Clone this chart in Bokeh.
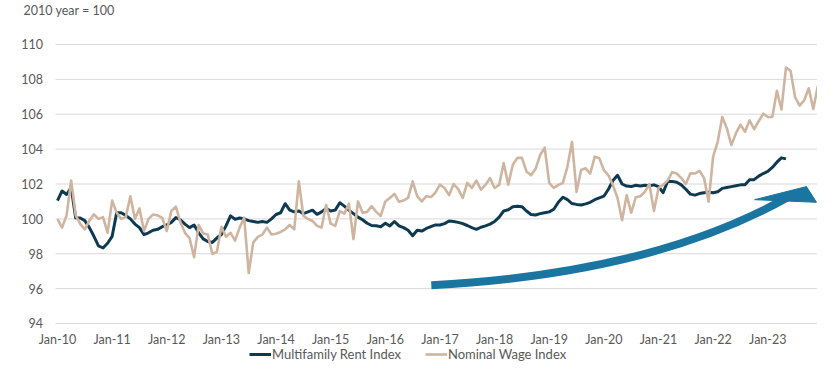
import numpy as np
from bokeh.plotting import figure
from bokeh.models import Legend, Range1d, Label
from bokeh.core.properties import value
from bokeh.embed import file_html
from bokeh.resources import INLINE

# ---- data (monthly, Jan-2010 onward) ----
tick_labels = ["Jan-10", "Jan-11", "Jan-12", "Jan-13", "Jan-14", "Jan-15", "Jan-16",
               "Jan-17", "Jan-18", "Jan-19", "Jan-20", "Jan-21", "Jan-22", "Jan-23"]
y_ticks = [94, 96, 98, 100, 102, 104, 106, 108, 110]

rent_index = [
    101.05, 101.6, 101.4, 101.8, 100.05, 100.05, 99.9, 99.5, 99.0, 98.45, 98.33, 98.6,
    99.0, 100.35, 100.35, 100.2, 100.0, 99.7, 99.5, 99.1, 99.2, 99.35, 99.4, 99.55,
    99.65, 99.8, 100.07, 99.95, 99.7, 99.5, 99.65, 99.2, 98.85, 98.7, 98.65, 98.9,
    99.1, 99.6, 100.17, 99.98, 100.05, 100.0, 99.9, 99.85, 99.8, 99.85, 99.8, 100.0,
    100.25, 100.35, 100.87, 100.5, 100.4, 100.45, 100.3, 100.4, 100.5, 100.26, 100.4, 100.6,
    100.45, 100.5, 100.92, 100.73, 100.5, 100.3, 100.1, 99.95, 99.75, 99.62, 99.6, 99.55,
    99.75, 99.6, 99.85, 99.6, 99.5, 99.35, 99.03, 99.35, 99.3, 99.45, 99.55, 99.65,
    99.65, 99.73, 99.88, 99.85, 99.8, 99.73, 99.62, 99.5, 99.4, 99.52, 99.6, 99.7,
    99.85, 100.1, 100.45, 100.52, 100.7, 100.73, 100.7, 100.45, 100.25, 100.22, 100.3, 100.35,
    100.4, 100.55, 100.95, 101.24, 101.1, 100.88, 100.83, 100.8, 100.86, 100.95, 101.1, 101.2,
    101.3, 101.7, 102.2, 102.5, 102.0, 101.88, 101.85, 101.93, 101.88, 101.93, 101.9, 101.95,
    101.85, 101.5, 102.15, 102.15, 102.1, 101.95, 101.7, 101.42, 101.36, 101.45, 101.5, 101.52,
    101.5, 101.55, 101.75, 101.8, 101.85, 101.9, 101.95, 101.96, 102.24, 102.25, 102.45, 102.6,
    102.72, 102.95, 103.25, 103.5, 103.44,
]

wage_index = [
    99.98, 99.5, 100.2, 102.2, 100.2, 99.7, 99.4, 99.9, 100.26, 100.0, 100.1, 99.2,
    101.05, 100.35, 100.0, 100.1, 101.3, 100.0, 100.6, 99.3, 100.0, 100.25, 100.2, 100.05,
    99.3, 100.45, 100.7, 99.8, 99.2, 98.9, 97.8, 99.65, 99.16, 99.1, 98.0, 98.1,
    99.54, 98.97, 99.2, 98.75, 99.5, 100.07, 96.9, 98.65, 98.97, 99.1, 99.5, 99.1,
    99.15, 99.25, 99.4, 99.65, 99.4, 102.15, 100.17, 100.0, 99.88, 99.6, 99.5, 100.8,
    99.73, 99.6, 100.45, 100.3, 100.87, 98.84, 101.0, 100.35, 100.4, 100.73, 100.4, 100.17,
    101.0, 101.2, 101.43, 100.98, 101.05, 101.2, 102.15, 101.3, 101.0, 101.3, 101.25, 101.5,
    101.96, 101.77, 101.36, 102.0, 101.7, 101.2, 102.06, 101.77, 102.2, 101.68, 101.95, 102.34,
    101.77, 101.95, 103.2, 101.96, 103.1, 103.5, 103.5, 102.72, 102.5, 102.87, 103.66, 104.08,
    102.06, 101.77, 101.95, 102.06, 103.0, 104.42, 101.55, 102.8, 102.9, 102.6, 103.57, 103.48,
    102.8, 102.5, 101.93, 101.2, 99.92, 101.36, 100.35, 101.24, 101.3, 101.55, 102.0, 100.45,
    101.77, 101.95, 102.2, 102.68, 102.6, 102.34, 102.0, 102.62, 102.6, 102.76, 102.34, 100.98,
    103.57, 104.42, 105.84, 105.2, 104.23, 104.9, 105.4, 105.0, 105.65, 105.14, 105.6, 106.03,
    105.84, 105.84, 107.35, 106.27, 108.68, 108.49, 106.98, 106.5, 106.8, 107.49, 106.3, 107.63,
]

# ---- styling ----
FONT = "Lato"
TXT = "#595959"
GRID = "#d9d9d9"
RENT_C = "#0e3a51"
WAGE_C = "#cfb5a0"
ARROW_C = "#1a76a0"

x_rent = np.arange(len(rent_index))
x_wage = np.arange(len(wage_index))
x_ticks = [12 * k for k in range(len(tick_labels))]

# The plotting frame covers the whole canvas; tick labels, note and legend live inside it.
p = figure(width=817, height=362, output_backend="svg", toolbar_location=None, title=None,
           x_range=Range1d(-12.519, 166.92), y_range=Range1d(91.763, 112.523),
           min_border=0, min_border_left=0, min_border_right=0,
           min_border_top=0, min_border_bottom=0)
p.outline_line_color = None
p.axis.visible = False
p.grid.visible = False

# horizontal gridlines
p.segment(x0=[-0.44] * len(y_ticks), x1=[167.4] * len(y_ticks), y0=y_ticks, y1=y_ticks,
          line_color=GRID, line_width=1)

# y tick labels
p.text(x=[-3.185] * len(y_ticks), y=y_ticks, text=[str(t) for t in y_ticks],
       text_align="right", text_baseline="middle",
       text_font=value(FONT), text_font_size="12.5px", text_color=TXT)

# month tick labels under the 94 line
p.text(x=x_ticks, y=[93.0825] * len(x_ticks), text=tick_labels,
       text_align="center", text_baseline="middle",
       text_font=value(FONT), text_font_size="12.5px", text_color=TXT)

# unit note (top-left)
p.add_layout(Label(x=-7.468, y=111.95, text="2010 year = 100",
                   text_align="left", text_baseline="middle",
                   text_font=FONT, text_font_size="12.5px", text_color=TXT))

# curved arrow annotation
p.quadratic(x0=82.1, y0=96.2, x1=160.3, y1=101.22, cx=130.4, cy=96.85,
            line_color=ARROW_C, line_width=8, line_cap="butt")
p.patch(x=[153.1, 164.5, 166.7], y=[101.1, 101.85, 100.95],
        fill_color=ARROW_C, line_color=ARROW_C, line_width=1)

r_rent = p.line(x_rent, rent_index, line_color=RENT_C, line_width=3, line_join="round")
r_wage = p.line(x_wage, wage_index, line_color=WAGE_C, line_width=2.6, line_join="round")

legend = Legend(items=[("Multifamily Rent Index", [r_rent]), ("Nominal Wage Index", [r_wage])],
                orientation="horizontal", location=(249, 0), glyph_width=22, glyph_height=14,
                label_standoff=1, spacing=24, padding=0, margin=0,
                border_line_alpha=0, background_fill_alpha=0,
                label_text_font=FONT, label_text_font_size="13px", label_text_color=TXT,
                label_height=14)
p.add_layout(legend)

open("out.html", "w").write(file_html(p, INLINE))
